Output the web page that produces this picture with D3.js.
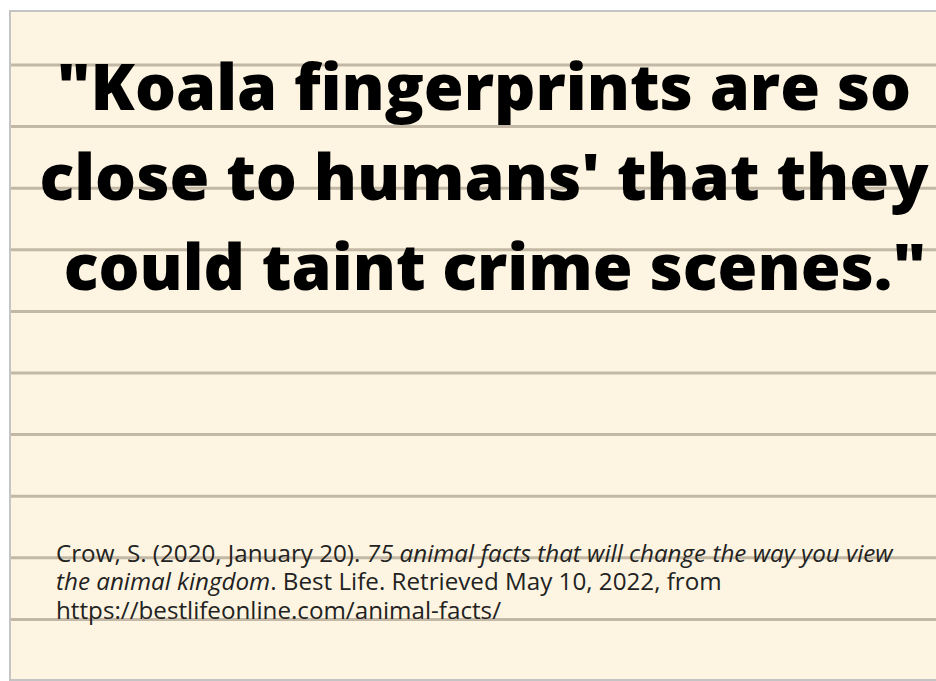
<!DOCTYPE html>
<html>
<head>
<meta charset="utf-8">
<script src="https://cdn.jsdelivr.net/npm/d3@7"></script>
<style>
  html, body { margin: 0; padding: 0; background: #fff; }
  svg { display: block; }
</style>
</head>
<body>
<svg id="card" width="936" height="681"></svg>
<script>
(function (d3) {
    'use strict';

    // ruled lines on the paper, counted from the top
    var ruleIndex = [0, 1, 2, 3, 4, 5, 6, 7, 8, 9];

    var quoteLines = [
        '"Koala fingerprints are so',
        'close to humans\' that they',
        'could taint crime scenes."'
    ];

    // citation lines, split into [text, italic?] runs
    var citeLines = [
        [['Crow, S. (2020, January 20). ', false], ['75 animal facts that will change the way you view', true]],
        [['the animal kingdom', true], ['. Best Life. Retrieved May 10, 2022, from', false]],
        [['https://bestlifeonline.com/animal-facts/', false]]
    ];

    var svg = d3.select('#card'),
        width = +svg.attr('width'),
        paper = { left: 10, top: 11, bottom: 680 };

    var ruleY = d3.scaleLinear().domain([0, 9]).range([65, 619.4]),
        quoteY = d3.scaleLinear().domain([0, 2]).range([110, 290]),
        citeY = d3.scaleLinear().domain([0, 2]).range([562, 618.5]);

    svg.append('rect')
        .attr('x', paper.left)
        .attr('y', paper.top)
        .attr('width', width - paper.left)
        .attr('height', paper.bottom - paper.top)
        .attr('fill', '#fdf5e1');

    svg.selectAll('.rule')
        .data(ruleIndex)
        .enter().append('line')
        .attr('class', 'rule')
        .attr('x1', paper.left)
        .attr('x2', width)
        .attr('y1', function (d) { return ruleY(d); })
        .attr('y2', function (d) { return ruleY(d); })
        .attr('stroke', '#c2b8a5')
        .attr('stroke-width', 3);

    // border of the card
    svg.append('path')
        .attr('d', 'M' + width + ',' + paper.top + 'H' + paper.left + 'V' + paper.bottom + 'H' + width)
        .attr('fill', 'none')
        .attr('stroke', '#c4c4c4')
        .attr('stroke-width', 2);

    svg.selectAll('.quote')
        .data(quoteLines)
        .enter().append('text')
        .attr('class', 'quote')
        .attr('x', function (d, i) { return i === 2 ? 495 : 484; })
        .attr('y', function (d, i) { return quoteY(i); })
        .attr('text-anchor', 'middle')
        .style('font-family', '"Open Sans", sans-serif')
        .style('font-weight', 800)
        .style('font-size', '64.5px')
        .attr('fill', '#000')
        .text(function (d) { return d; });

    var cite = svg.selectAll('.cite')
        .data(citeLines)
        .enter().append('text')
        .attr('class', 'cite')
        .attr('x', 56)
        .attr('y', function (d, i) { return citeY(i); })
        .style('font-family', '"Open Sans", sans-serif')
        .style('font-size', '24.2px')
        .attr('fill', '#222');

    cite.selectAll('tspan')
        .data(function (d) { return d; })
        .enter().append('tspan')
        .style('font-style', function (d) { return d[1] ? 'italic' : 'normal'; })
        .style('white-space', 'pre')
        .text(function (d) { return d[0]; });
})(window.d3);
</script>
</body>
</html>
